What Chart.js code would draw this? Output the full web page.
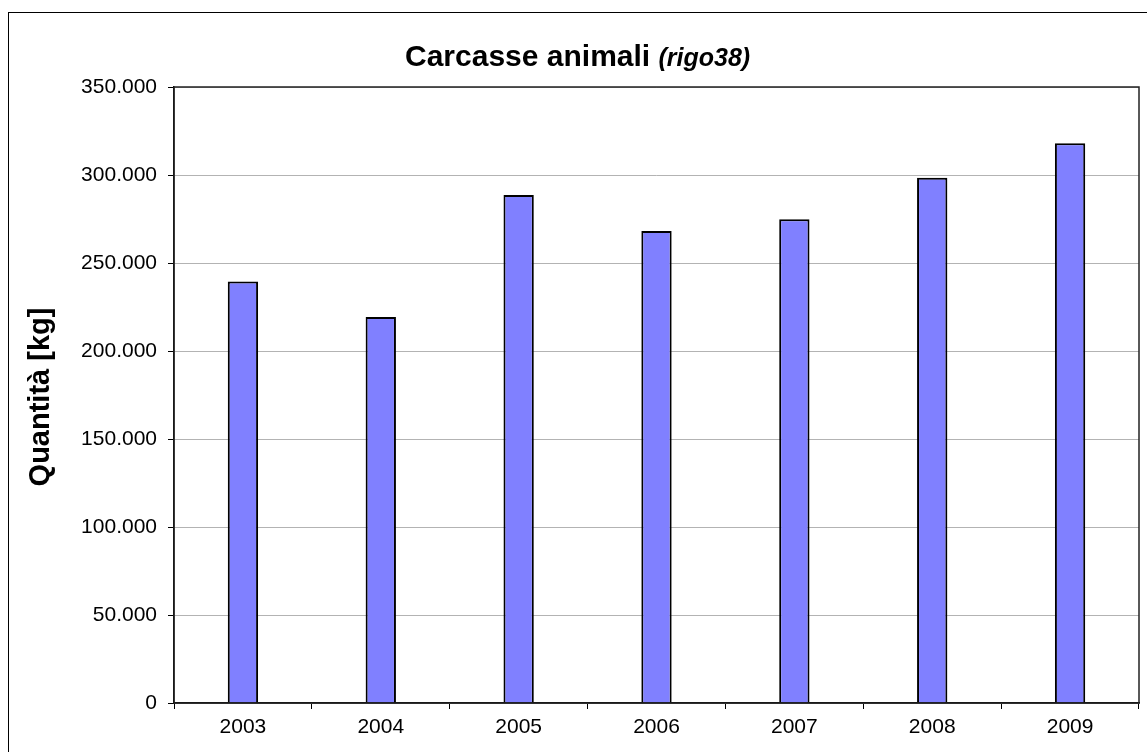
<!DOCTYPE html>
<html>
<head>
<meta charset="utf-8">
<script src="https://cdn.jsdelivr.net/npm/chart.js@4.4.0/dist/chart.umd.min.js"></script>
<style>
  html, body { margin: 0; padding: 0; background: #fff; }
  #wrap { position: relative; width: 1147px; height: 752px; }
</style>
</head>
<body>
<div id="wrap"><canvas id="c" width="1147" height="752"></canvas></div>
<script>
const categories = ['2003', '2004', '2005', '2006', '2007', '2008', '2009'];
const quantities = [239500, 219300, 288600, 268200, 274800, 298500, 318000];
const yTickValues = [0, 50000, 100000, 150000, 200000, 250000, 300000, 350000];
const yTickLabels = ['0', '50.000', '100.000', '150.000', '200.000', '250.000', '300.000', '350.000'];
const titleMain = 'Carcasse animali';
const titleSub = '(rigo38)';
const yAxisTitle = 'Quantità [kg]';

const FONT = '"Liberation Sans", Arial, sans-serif';

const decor = {
  id: 'decor',
  beforeDraw(chart) {
    const ctx = chart.ctx;
    ctx.save();
    ctx.fillStyle = '#fff';
    ctx.fillRect(0, 0, chart.width, chart.height);
    ctx.strokeStyle = '#000';
    ctx.lineWidth = 1;
    ctx.strokeRect(8.5, 12.5, 1300, 900);
    ctx.restore();
  },
  afterDraw(chart) {
    const ctx = chart.ctx;
    const a = chart.chartArea;
    ctx.save();
    // plot frame
    ctx.strokeStyle = '#222';
    ctx.lineWidth = 1.5;
    ctx.strokeRect(a.left, a.top, a.right - a.left, a.bottom - a.top);
    // title
    ctx.fillStyle = '#000';
    ctx.textBaseline = 'alphabetic';
    ctx.textAlign = 'left';
    const x0 = 405;
    ctx.font = 'bold 30px ' + FONT;
    const w1 = ctx.measureText(titleMain + ' ').width;
    ctx.fillText(titleMain + ' ', x0, 66);
    ctx.font = 'italic bold 25px ' + FONT;
    ctx.fillText(titleSub, x0 + w1, 66);
    // y axis title
    ctx.translate(41, 397);
    ctx.rotate(-Math.PI / 2);
    ctx.textAlign = 'center';
    ctx.textBaseline = 'middle';
    ctx.font = 'bold 29px ' + FONT;
    ctx.fillText(yAxisTitle, 0, 0);
    ctx.restore();
  }
};

new Chart(document.getElementById('c'), {
  type: 'bar',
  data: {
    labels: categories,
    datasets: [{
      data: quantities,
      backgroundColor: '#8080FF',
      borderColor: '#000',
      borderWidth: 2,
      borderSkipped: 'bottom',
      barPercentage: 0.22,
      categoryPercentage: 1.0
    }]
  },
  options: {
    responsive: false,
    animation: false,
    events: [],
    layout: { padding: { top: 87, right: 8, left: 0, bottom: 0 } },
    plugins: {
      legend: { display: false },
      title: { display: false },
      tooltip: { enabled: false }
    },
    scales: {
      x: {
        offset: true,
        grid: {
          offset: true,
          drawOnChartArea: false,
          tickLength: 6,
          tickColor: '#000',
          tickWidth: 1
        },
        border: { color: '#000', width: 1.5 },
        ticks: {
          color: '#000',
          font: { family: FONT, size: 21 },
          padding: 6,
          maxRotation: 0
        },
        afterFit(scale) { scale.height = 49; }
      },
      y: {
        min: 0,
        max: 350000,
        afterBuildTicks(scale) {
          scale.ticks = yTickValues.map(v => ({ value: v }));
        },
        grid: {
          color: '#b3b3b3',
          lineWidth: 1,
          tickLength: 6,
          tickColor: '#000',
          tickWidth: 1
        },
        border: { color: '#000', width: 1.5 },
        ticks: {
          color: '#000',
          font: { family: FONT, size: 21 },
          padding: 11,
          callback(value) {
            const i = yTickValues.indexOf(value);
            return i >= 0 ? yTickLabels[i] : '';
          }
        },
        afterFit(scale) { scale.width = 174; }
      }
    }
  },
  plugins: [decor]
});
</script>
</body>
</html>
